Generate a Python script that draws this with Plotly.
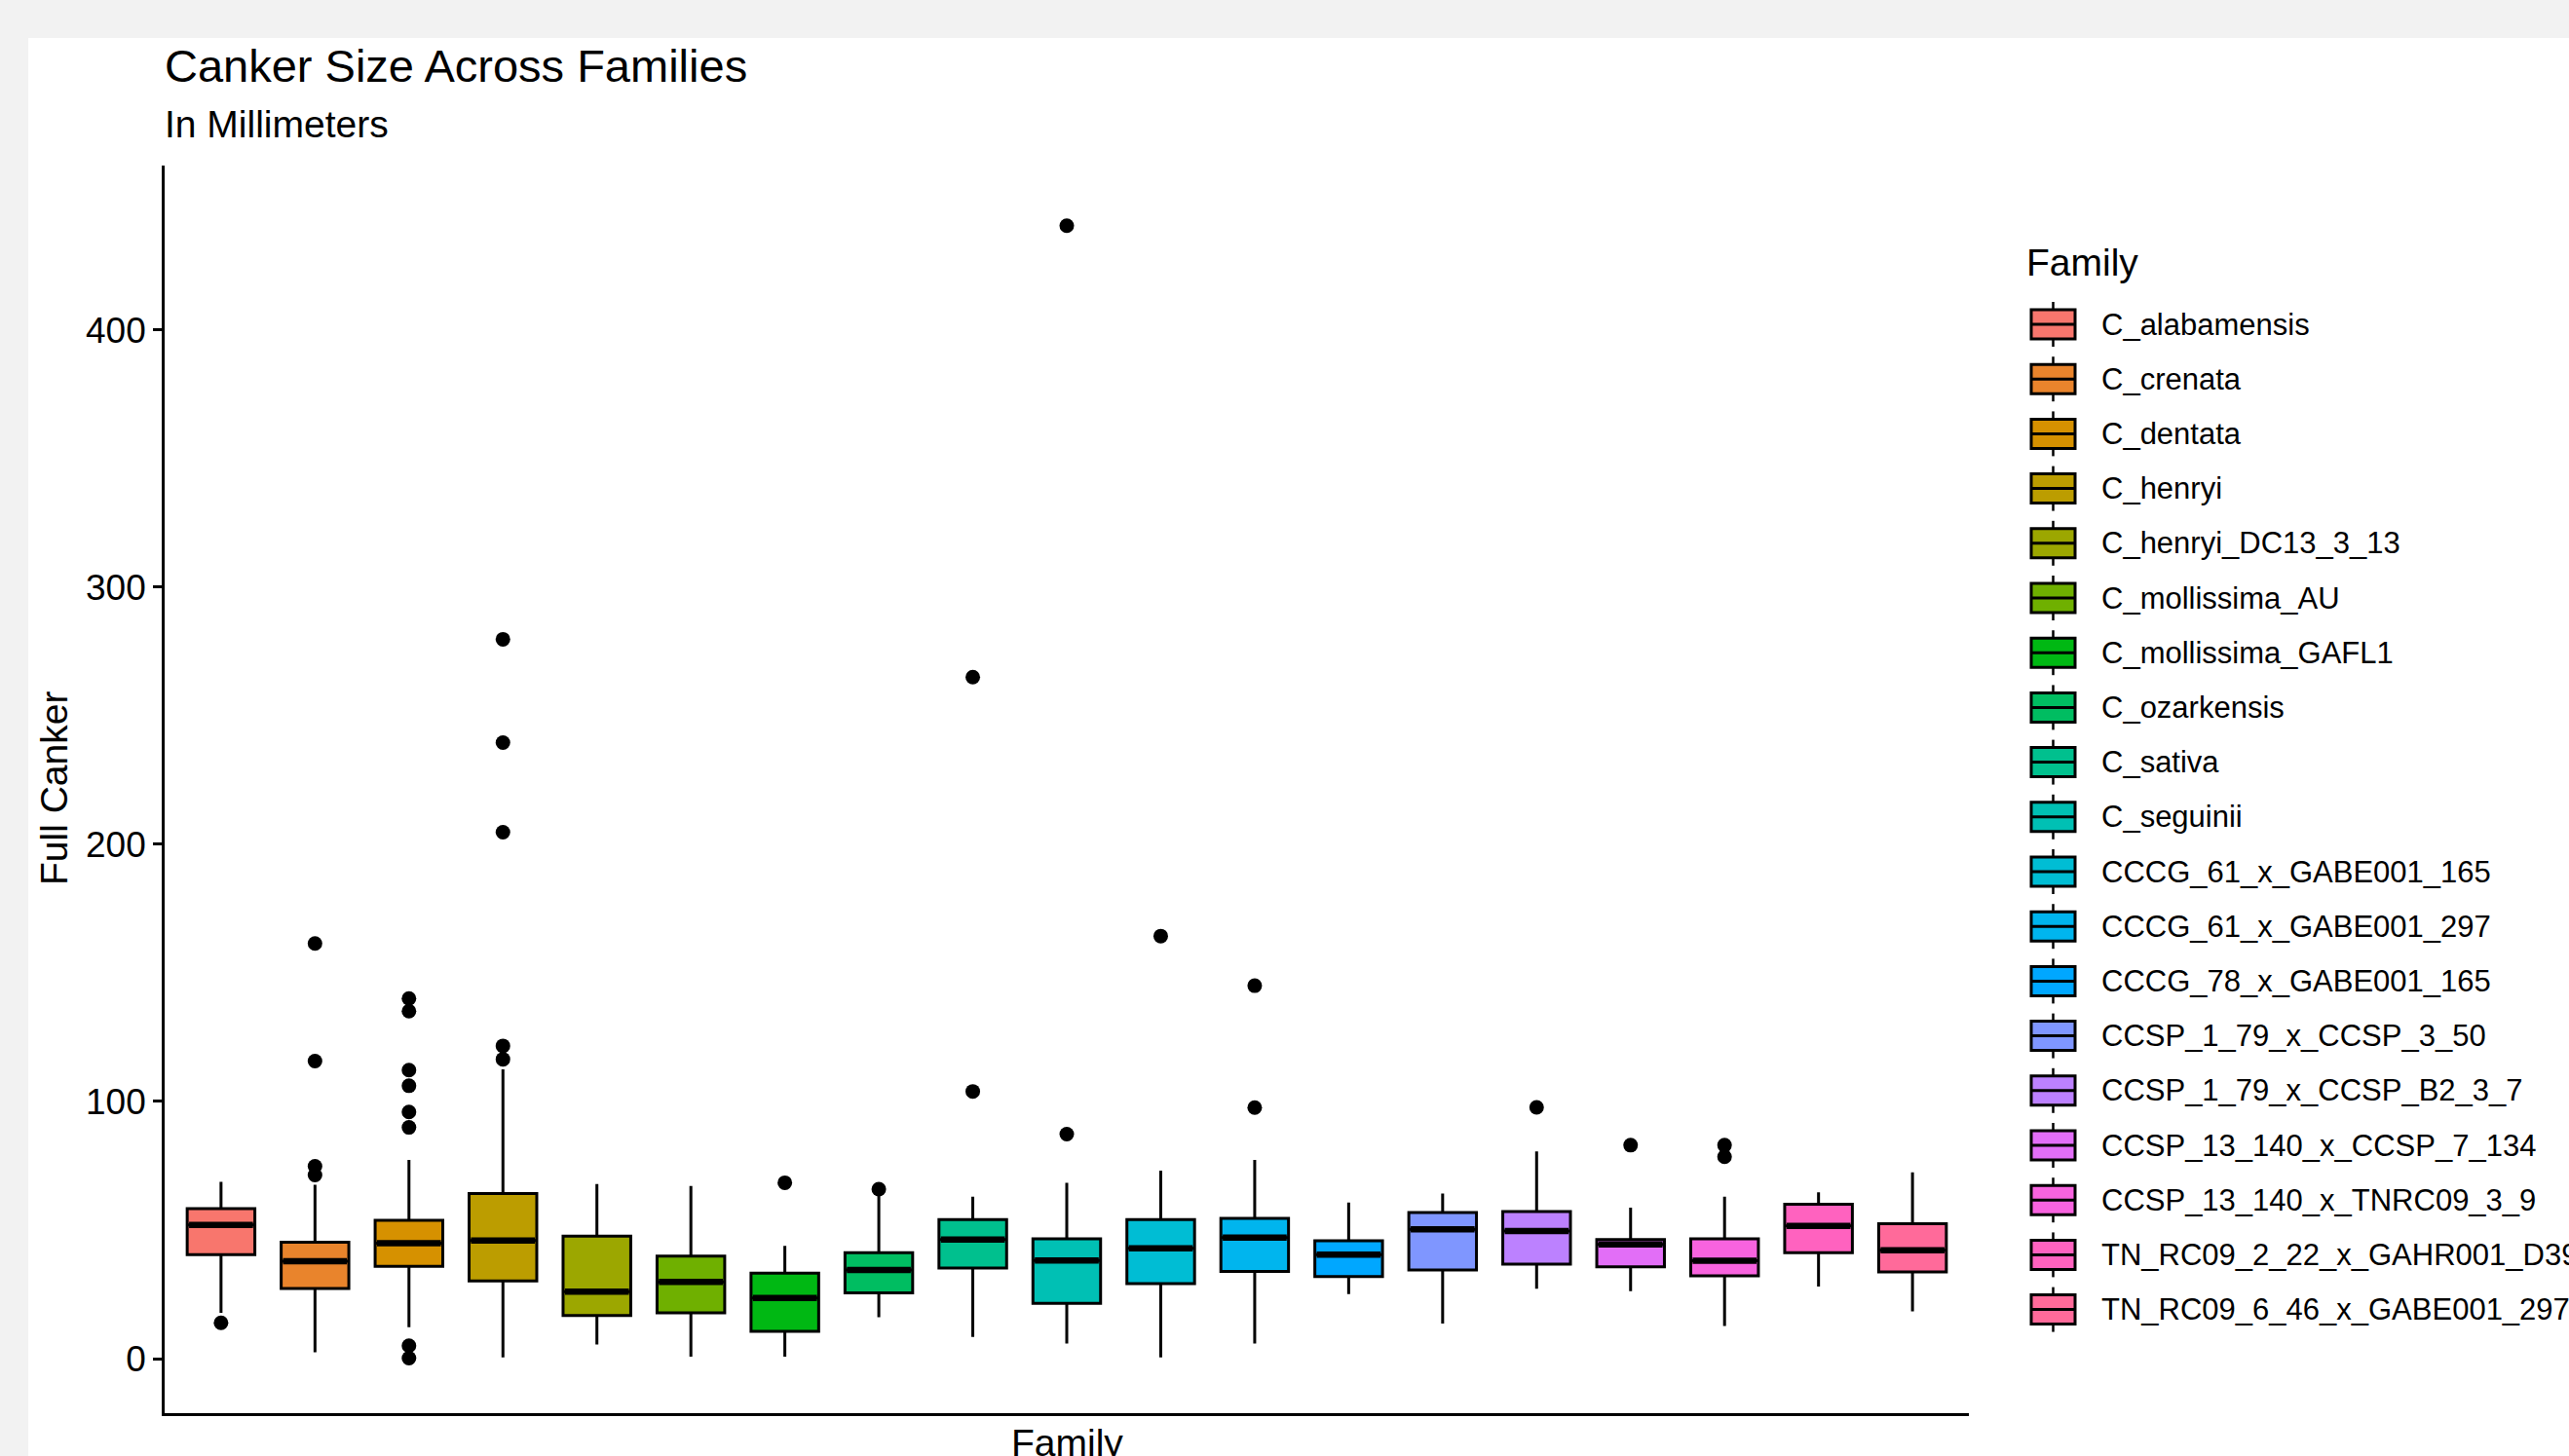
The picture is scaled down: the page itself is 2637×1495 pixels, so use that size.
import math
import plotly.graph_objects as go

# ---- data: canker size (mm) summary per family ----
families = [
    "C_alabamensis", "C_crenata", "C_dentata", "C_henryi", "C_henryi_DC13_3_13",
    "C_mollissima_AU", "C_mollissima_GAFL1", "C_ozarkensis", "C_sativa", "C_seguinii",
    "CCCG_61_x_GABE001_165", "CCCG_61_x_GABE001_297", "CCCG_78_x_GABE001_165",
    "CCSP_1_79_x_CCSP_3_50", "CCSP_1_79_x_CCSP_B2_3_7", "CCSP_13_140_x_CCSP_7_134",
    "CCSP_13_140_x_TNRC09_3_9", "TN_RC09_2_22_x_GAHR001_D39", "TN_RC09_6_46_x_GABE001_297",
]
lower_whisker = [17.8, 2.5, 12.2, 0.5, 5.5, 0.8, 0.8, 16.1, 8.4, 5.9,
                 0.5, 5.9, 25.1, 13.6, 27.2, 26.2, 12.7, 28.0, 18.4]
q1 = [40.4, 27.3, 35.9, 30.2, 16.8, 17.8, 10.6, 25.6, 35.2, 21.5,
      29.2, 33.9, 31.9, 34.5, 36.7, 35.7, 32.2, 41.2, 33.7]
median = [52.0, 37.9, 44.9, 45.9, 26.0, 29.8, 23.6, 34.5, 46.3, 38.2,
          42.9, 47.1, 40.4, 50.3, 49.6, 44.4, 38.1, 51.6, 42.1]
q3 = [58.3, 45.3, 53.8, 64.2, 47.6, 39.9, 33.2, 41.2, 54.1, 46.6,
      54.1, 54.5, 45.8, 56.8, 57.2, 46.3, 46.6, 60.0, 52.5]
upper_whisker = [68.7, 67.6, 77.3, 112.5, 67.9, 67.1, 43.8, 64.2, 63.0, 68.4,
                 73.1, 77.3, 60.7, 64.2, 80.6, 58.7, 63.0, 64.7, 72.4]
outliers = [
    [13.9],
    [161.4, 115.7, 74.8, 71.4],
    [140.0, 135.1, 112.2, 106.1, 95.9, 89.9, 5.0, 0.2],
    [279.7, 239.5, 204.7, 121.6, 116.4],
    [],
    [],
    [68.4],
    [65.9],
    [265.0, 103.9],
    [440.5, 87.3],
    [164.3],
    [145.0, 97.6],
    [],
    [],
    [97.7],
    [83.0],
    [83.0, 78.5],
    [],
    [],
]
y_ticks = [0, 100, 200, 300, 400]


# ---- ggplot-style hue palette (HCL, c=100, l=65) ----
def hcl_hex(h, c=100.0, l=65.0):
    wx, wy, wz = 95.047, 100.0, 108.883
    hr = math.radians(h)
    U, V = c * math.cos(hr), c * math.sin(hr)
    Y = wy * ((l + 16) / 116) ** 3 if l > 7.999592 else wy * l / 903.3
    den = wx + 15 * wy + 3 * wz
    un, vn = 4 * wx / den, 9 * wy / den
    u = U / (13 * l) + un
    v = V / (13 * l) + vn
    X = 9.0 * Y * u / (4 * v)
    Z = -X / 3 - 5 * Y + 3 * Y / v
    r = (3.240479 * X - 1.537150 * Y - 0.498535 * Z) / wy
    g = (-0.969256 * X + 1.875992 * Y + 0.041556 * Z) / wy
    b = (0.055648 * X - 0.204043 * Y + 1.057311 * Z) / wy

    def gam(t):
        t = 1.055 * t ** (1 / 2.4) - 0.055 if t > 0.00304 else 12.92 * t
        return min(1.0, max(0.0, t))

    return "#%02X%02X%02X" % tuple(round(255 * gam(t)) for t in (r, g, b))


n = len(families)
colors = [hcl_hex(15 + 360.0 * k / n) for k in range(n)]

# ---- canvas geometry (pixels) ----
W, H = 2637, 1495
ML, MR, MT, MB = 169, 616, 170, 44
PW, PH = W - ML - MR, H - MT - MB


def fx(px):
    return (px - ML) / PW


def fy(py):
    return (H - MB - py) / PH


FONT = "Liberation Sans, Arial, Helvetica, sans-serif"
BOX_W = 0.72
positions = list(range(1, n + 1))

fig = go.Figure()

for i, fam in enumerate(families):
    fig.add_trace(go.Box(
        x=[positions[i]], q1=[q1[i]], median=[median[i]], q3=[q3[i]],
        lowerfence=[lower_whisker[i]], upperfence=[upper_whisker[i]],
        name=fam, fillcolor=colors[i], line=dict(color="black", width=3),
        width=BOX_W, whiskerwidth=0, boxpoints=False, showlegend=False,
        hoverinfo="skip",
    ))

# thicker median bars
mx, my = [], []
for i in range(n):
    mx += [positions[i] - BOX_W / 2 + 0.02, positions[i] + BOX_W / 2 - 0.02, None]
    my += [median[i], median[i], None]
fig.add_trace(go.Scatter(x=mx, y=my, mode="lines", line=dict(color="black", width=6.5),
                         showlegend=False, hoverinfo="skip"))

# outlying points
ox, oy = [], []
for i in range(n):
    for v in outliers[i]:
        ox.append(positions[i])
        oy.append(v)
fig.add_trace(go.Scatter(x=ox, y=oy, mode="markers",
                         marker=dict(color="black", size=15, line=dict(width=0)),
                         showlegend=False, hoverinfo="skip"))

shapes = [
    # white panel over the grey window frame
    dict(type="rect", xref="paper", yref="paper", x0=fx(29), x1=fx(W + 5), y0=fy(39), y1=fy(H + 5),
         fillcolor="white", line=dict(width=0), layer="below"),
]
annotations = [
    dict(text="Canker Size Across Families", x=fx(167), y=fy(68), xanchor="left", yanchor="middle",
         font=dict(size=47, color="black", family=FONT)),
    dict(text="In Millimeters", x=fx(167), y=fy(128), xanchor="left", yanchor="middle",
         font=dict(size=39, color="black", family=FONT)),
    dict(text="Full Canker", x=fx(55), y=fy(810), xanchor="center", yanchor="middle", textangle=-90,
         font=dict(size=39, color="black", family=FONT)),
    dict(text="Family", x=fx(1095), y=fy(1481), xanchor="center", yanchor="middle",
         font=dict(size=39, color="black", family=FONT)),
    dict(text="Family", x=fx(2078), y=fy(269), xanchor="left", yanchor="middle",
         font=dict(size=39, color="black", family=FONT)),
]

# legend keys: small boxplot glyphs with labels
KX0, KX1 = 2085, 2130
KXC = (KX0 + KX1) / 2
for i, fam in enumerate(families):
    yc = 333 + 56.2 * i
    shapes.append(dict(type="line", xref="paper", yref="paper", x0=fx(KXC), x1=fx(KXC),
                       y0=fy(yc - 23), y1=fy(yc + 23), line=dict(color="black", width=2.5)))
    shapes.append(dict(type="rect", xref="paper", yref="paper", x0=fx(KX0), x1=fx(KX1),
                       y0=fy(yc - 15), y1=fy(yc + 15), fillcolor=colors[i],
                       line=dict(color="black", width=3)))
    shapes.append(dict(type="line", xref="paper", yref="paper", x0=fx(KX0), x1=fx(KX1),
                       y0=fy(yc), y1=fy(yc), line=dict(color="black", width=3)))
    annotations.append(dict(text=fam, x=fx(2155), y=fy(yc), xanchor="left", yanchor="middle",
                            font=dict(size=31, color="black", family=FONT)))

for a in annotations:
    a.update(xref="paper", yref="paper", showarrow=False)

fig.update_layout(
    width=W, height=H,
    margin=dict(l=ML, r=MR, t=MT, b=MB, autoexpand=False),
    paper_bgcolor="#F2F2F2", plot_bgcolor="white",
    font=dict(family=FONT, color="black"),
    boxmode="overlay",
    showlegend=False,
    shapes=shapes, annotations=annotations,
    xaxis=dict(range=[0.4, n + 0.6], showline=True, linecolor="black", linewidth=2.7,
               showticklabels=False, ticks="", showgrid=False, zeroline=False, fixedrange=True),
    yaxis=dict(range=[-21.2, 463.9], tickvals=y_ticks, ticktext=[str(t) for t in y_ticks],
               showline=True, linecolor="black", linewidth=2.7, ticks="outside", ticklen=9,
               tickwidth=2.5, tickcolor="black", tickfont=dict(size=37, color="black", family=FONT),
               showgrid=False, zeroline=False, fixedrange=True),
)

fig.write_html("out.html")
